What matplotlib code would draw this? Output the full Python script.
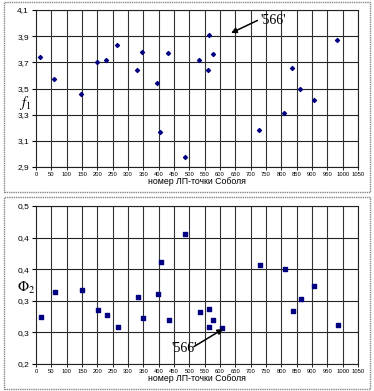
import numpy as np
import matplotlib
matplotlib.use("Agg")
import matplotlib.pyplot as plt
from matplotlib.patches import Rectangle
from matplotlib.ticker import FuncFormatter

# f1 vs LP-point number (top)
x_f1 = [13, 59, 146, 200, 227, 264, 330, 345, 393, 403, 432, 485,
        532, 563, 576, 561, 728, 809, 836, 860, 905, 982]
y_f1 = [3.74, 3.57, 3.46, 3.70, 3.72, 3.83, 3.64, 3.78, 3.54, 3.17, 3.77, 2.98,
        3.72, 3.91, 3.765, 3.64, 3.18, 3.31, 3.66, 3.50, 3.415, 3.87]

# Phi2 vs LP-point number (bottom)
x_phi = [16, 63, 149, 203, 231, 267, 334, 350, 397, 406, 435, 487,
         534, 563, 578, 565, 606, 732, 811, 838, 864, 908, 985]
y_phi = [0.2895, 0.3375, 0.3405, 0.302, 0.2925, 0.270, 0.3275, 0.2875, 0.332, 0.3935, 0.283, 0.4465,
         0.2995, 0.304, 0.283, 0.2705, 0.2685, 0.388, 0.380, 0.3015, 0.324, 0.3485, 0.275]

x_ticks = list(range(0, 1051, 50))
f1_ticks = [2.9, 3.1, 3.3, 3.5, 3.7, 3.9, 4.1]
phi_ticks = [0.2, 0.26, 0.32, 0.38, 0.44, 0.5]
xlabel = "номер ЛП-точки Соболя"

plt.rcParams['font.family'] = ['Liberation Sans', 'DejaVu Sans']

fig = plt.figure(figsize=(3.74, 3.91), dpi=100)

# panel frames
for y0, h in [(1 - 192 / 391, 190 / 391), (1 - 389 / 391, 192 / 391)]:
    fig.patches.append(Rectangle((4 / 374, y0), 366 / 374, h, transform=fig.transFigure,
                                 fill=False, edgecolor='#888888', linewidth=1.0, linestyle=(0, (1, 0.6))))

comma = FuncFormatter(lambda v, p: ("%.1f" % v).replace('.', ','))


def style_axes(ax, yticks, ymin, ymax):
    ax.set_xlim(0, 1050)
    ax.set_ylim(ymin, ymax)
    ax.set_xticks(x_ticks)
    ax.set_xticklabels([str(t) for t in x_ticks], fontsize=4.2)
    ax.set_yticks(yticks)
    ax.yaxis.set_major_formatter(comma)
    ax.tick_params(axis='y', labelsize=6, length=3, width=0.8, pad=2)
    ax.tick_params(axis='x', length=2, width=0.6, pad=1.5)
    for t in yticks:
        ax.axhline(t, color='#222222', linewidth=0.8, zorder=1)
    for t in x_ticks[1:]:
        ax.axvline(t, color='#333333', linewidth=0.8, zorder=1)
    for s in ax.spines.values():
        s.set_color('#222222')
        s.set_linewidth(0.8)
    ax.set_xlabel(xlabel, fontsize=6.3, labelpad=0)


def arrow(ax, head, tail):
    ax.annotate("", xy=head, xytext=tail,
                arrowprops=dict(arrowstyle='-|>', color='black', lw=1.1, mutation_scale=8,
                                shrinkA=0, shrinkB=0), zorder=4)


ax1 = fig.add_axes([36 / 374, 1 - 167 / 391, 322 / 374, 157 / 391])
ax1.scatter(x_f1, y_f1, marker='D', s=4, color='#000080', zorder=3)
style_axes(ax1, f1_ticks, 2.9, 4.1)
ax1.text(-54, 3.39, r'$f_1$', fontsize=10.5, math_fontfamily='stix', va='center')
ax1.text(772, 4.022, "'566'", fontsize=10, family='Liberation Serif', ha='center', va='center')
arrow(ax1, (636, 3.924), (722, 4.02))

ax2 = fig.add_axes([36 / 374, 1 - 364 / 391, 322 / 374, 158 / 391])
ax2.scatter(x_phi, y_phi, marker='s', s=5, color='#000080', zorder=3)
style_axes(ax2, phi_ticks, 0.2, 0.5)
ax2.text(-62, 0.344, r'$\mathrm{\Phi}_2$', fontsize=10.5, math_fontfamily='stix', va='center')
ax2.text(483, 0.2285, "'566'", fontsize=10, family='Liberation Serif', ha='center', va='center')
arrow(ax2, (610, 0.2665), (515, 0.233))

plt.savefig("out.png", dpi=100)
